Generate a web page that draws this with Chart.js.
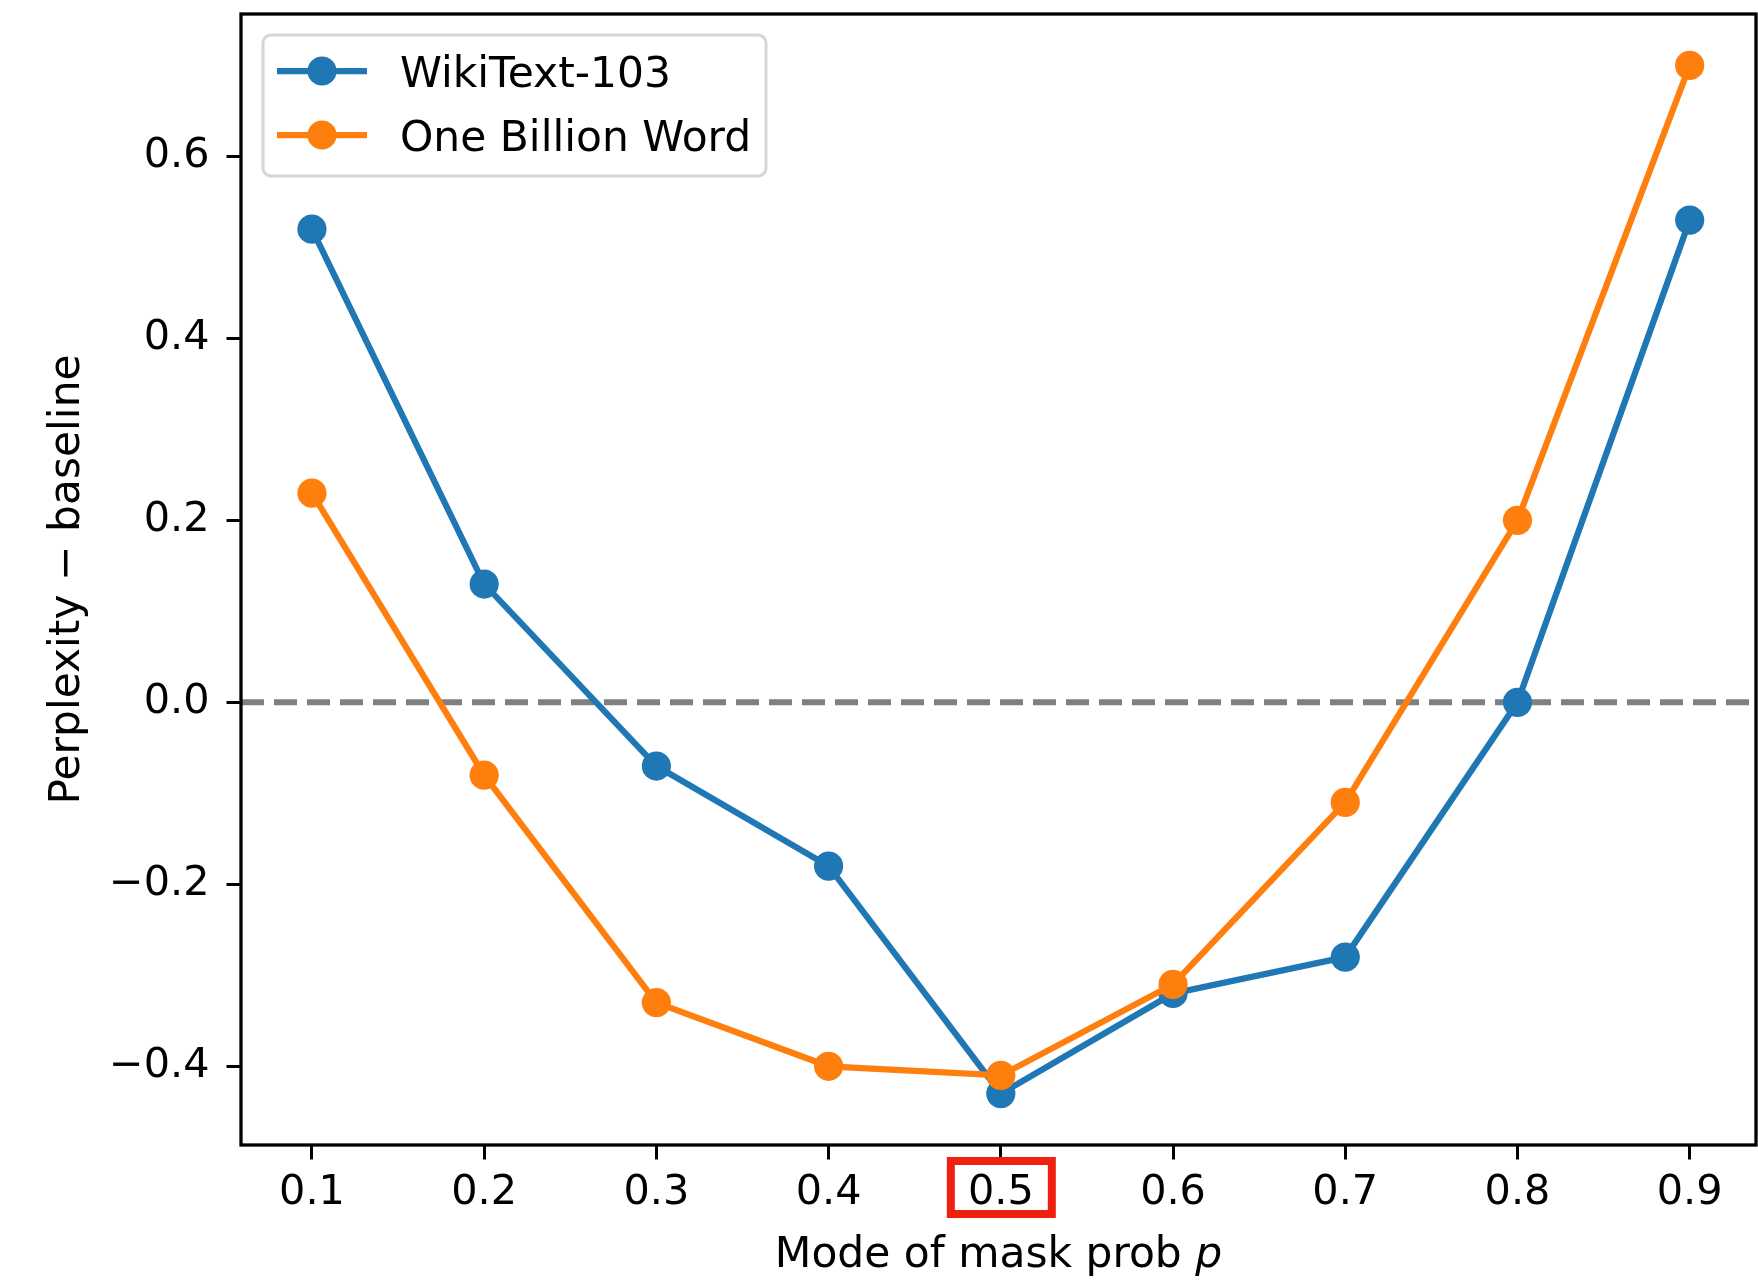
<!DOCTYPE html>
<html>
<head>
<meta charset="utf-8">
<script src="https://cdn.jsdelivr.net/npm/chart.js@4.4.1/dist/chart.umd.min.js"></script>
<style>
  html, body { margin: 0; padding: 0; background: #fff; }
  canvas { display: block; }
</style>
</head>
<body>
<canvas id="c" width="1758" height="1283"></canvas>
<script>
// mode of mask probability p
const maskProb = [0.1, 0.2, 0.3, 0.4, 0.5, 0.6, 0.7, 0.8, 0.9];
// perplexity minus baseline
const wikiText = [0.52, 0.13, -0.07, -0.18, -0.43, -0.32, -0.28, 0.0, 0.53];
const billionWord = [0.23, -0.08, -0.33, -0.40, -0.41, -0.31, -0.11, 0.20, 0.70];
const xTicks = [0.1, 0.2, 0.3, 0.4, 0.5, 0.6, 0.7, 0.8, 0.9];
const yTicks = [-0.4, -0.2, 0.0, 0.2, 0.4, 0.6];
const highlightTick = 0.5;

const FONT = 'DejaVu Sans';
const LABEL_SIZE = 42.4;
const TICK_SIZE = 41.4;
const BLUE = '#1f77b4';
const ORANGE = '#ff7f0e';

function fmt(v) {
  return (v < 0 ? '\u2212' : '') + Math.abs(v).toFixed(1);
}

const decor = {
  id: 'decor',
  beforeDatasetsDraw(chart) {
    // dashed zero line
    const { ctx, chartArea } = chart;
    const y = chart.scales.y.getPixelForValue(0);
    ctx.save();
    ctx.strokeStyle = '#808080';
    ctx.lineWidth = 6;
    ctx.setLineDash([23, 10]);
    ctx.beginPath();
    ctx.moveTo(chartArea.left, y);
    ctx.lineTo(chartArea.right, y);
    ctx.stroke();
    ctx.restore();
  },
  afterDatasetsDraw(chart) {
    const { ctx, chartArea } = chart;
    ctx.save();
    // frame
    ctx.strokeStyle = '#000';
    ctx.lineWidth = 3.3;
    ctx.strokeRect(chartArea.left, chartArea.top, chartArea.right - chartArea.left, chartArea.bottom - chartArea.top);

    // legend
    const lx = 263, ly = 35, lw = 503, lh = 141;
    ctx.fillStyle = 'rgba(255,255,255,0.8)';
    ctx.strokeStyle = '#d6d6d6';
    ctx.lineWidth = 3;
    ctx.beginPath();
    ctx.roundRect(lx, ly, lw, lh, 8);
    ctx.fill();
    ctx.stroke();
    ctx.font = LABEL_SIZE + 'px "' + FONT + '"';
    ctx.textAlign = 'left';
    ctx.textBaseline = 'alphabetic';
    chart.data.datasets.forEach((ds, i) => {
      const cy = 71 + i * 64;
      ctx.strokeStyle = ds.borderColor;
      ctx.lineWidth = 6.25;
      ctx.beginPath();
      ctx.moveTo(277, cy);
      ctx.lineTo(367, cy);
      ctx.stroke();
      ctx.fillStyle = ds.borderColor;
      ctx.beginPath();
      ctx.arc(322, cy, 14.6, 0, Math.PI * 2);
      ctx.fill();
      ctx.fillStyle = '#000';
      ctx.fillText(ds.label, 400, cy + 15.5);
    });
    ctx.restore();
  },
  afterDraw(chart) {
    const { ctx } = chart;
    ctx.save();
    // highlight box around one x tick label
    const px = chart.scales.x.getPixelForValue(highlightTick);
    ctx.strokeStyle = '#ee2010';
    ctx.lineWidth = 8;
    ctx.strokeRect(px - 50, 1161, 101, 53);

    // axis titles
    ctx.fillStyle = '#000';
    ctx.textBaseline = 'alphabetic';
    const normal = LABEL_SIZE + 'px "' + FONT + '"';
    const italic = 'italic ' + LABEL_SIZE + 'px "' + FONT + '"';
    ctx.font = normal;
    const t1 = 'Mode of mask prob ';
    const w1 = ctx.measureText(t1).width;
    ctx.font = italic;
    const w2 = ctx.measureText('p').width;
    const cx = (chart.chartArea.left + chart.chartArea.right) / 2;
    const sx = cx - (w1 + w2) / 2;
    ctx.font = normal;
    ctx.textAlign = 'left';
    ctx.fillText(t1, sx, 1267);
    ctx.font = italic;
    ctx.fillText('p', sx + w1, 1267);

    ctx.font = normal;
    ctx.translate(79, (chart.chartArea.top + chart.chartArea.bottom) / 2);
    ctx.rotate(-Math.PI / 2);
    ctx.textAlign = 'center';
    ctx.fillText('Perplexity \u2212 baseline', 0, 0);
    ctx.restore();
  }
};

new Chart(document.getElementById('c'), {
  type: 'line',
  data: {
    datasets: [
      {
        label: 'WikiText-103',
        data: maskProb.map((x, i) => ({ x: x, y: wikiText[i] })),
        borderColor: BLUE,
        backgroundColor: BLUE,
        pointBackgroundColor: BLUE,
        borderWidth: 6.25,
        pointRadius: 14.6,
        pointBorderWidth: 0,
        pointHoverRadius: 14.6,
        tension: 0,
        order: 2,
      },
      {
        label: 'One Billion Word',
        data: maskProb.map((x, i) => ({ x: x, y: billionWord[i] })),
        borderColor: ORANGE,
        backgroundColor: ORANGE,
        pointBackgroundColor: ORANGE,
        borderWidth: 6.25,
        pointRadius: 14.6,
        pointBorderWidth: 0,
        pointHoverRadius: 14.6,
        tension: 0,
        order: 1,
      },
    ],
  },
  options: {
    responsive: false,
    animation: false,
    devicePixelRatio: 1,
    layout: { autoPadding: false, padding: { top: 14, right: 2, left: 0, bottom: 0 } },
    plugins: {
      legend: { display: false },
      tooltip: { enabled: false },
    },
    scales: {
      x: {
        type: 'linear',
        min: 0.0588,
        max: 0.9385,
        afterBuildTicks: (s) => { s.ticks = xTicks.map(v => ({ value: v })); },
        afterFit: (s) => {
          s.height = 138;
          s.paddingLeft = 0;
          s.paddingRight = 0;
        },
        border: { display: false },
        grid: {
          drawOnChartArea: false,
          drawTicks: true,
          tickLength: 14.5,
          tickWidth: 3,
          tickColor: '#000',
        },
        ticks: {
          autoSkip: false,
          maxRotation: 0,
          padding: 9,
          color: '#000',
          font: { family: FONT, size: TICK_SIZE },
          callback: (v) => fmt(v),
        },
      },
      y: {
        type: 'linear',
        min: -0.4865,
        max: 0.7565,
        afterBuildTicks: (s) => { s.ticks = yTicks.map(v => ({ value: v })); },
        afterFit: (s) => {
          s.width = 241;
          s.paddingTop = 0;
          s.paddingBottom = 0;
        },
        border: { display: false },
        grid: {
          drawOnChartArea: false,
          drawTicks: true,
          tickLength: 14.5,
          tickWidth: 3,
          tickColor: '#000',
        },
        ticks: {
          autoSkip: false,
          padding: 17,
          color: '#000',
          font: { family: FONT, size: TICK_SIZE },
          callback: (v) => fmt(v),
        },
      },
    },
  },
  plugins: [decor],
});
</script>
</body>
</html>
